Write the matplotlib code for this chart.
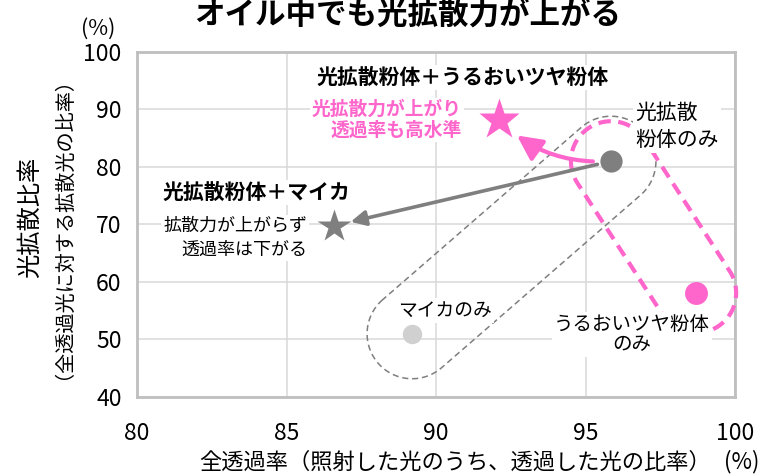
import numpy as np
import matplotlib.pyplot as plt
from matplotlib.patches import Polygon
from matplotlib.transforms import IdentityTransform

# 日本語フォント
plt.rcParams["font.family"] = ["Noto Sans CJK JP", "DejaVu Sans"]

# データ（全透過率, 光拡散比率）
names = ["光拡散粉体のみ", "うるおいツヤ粉体のみ", "マイカのみ",
         "光拡散粉体＋マイカ", "光拡散粉体＋うるおいツヤ粉体"]
trans = [95.85, 98.7, 89.2, 86.6, 92.1]
diffuse = [81.0, 58.1, 51.0, 69.8, 88.1]

x_ticks = [80, 85, 90, 95, 100]
y_ticks = [40, 50, 60, 70, 80, 90, 100]

PINK = "#FF66CC"
GRAY = "#7F7F7F"
LIGHT = "#D0D0D0"

markers = ["o", "o", "o", "*", "*"]
colors = [GRAY, PINK, LIGHT, GRAY, PINK]
sizes = [16, 16.5, 14, 25, 31]

fig = plt.figure(figsize=(7.62, 4.76), dpi=100)
ax = fig.add_axes([0.1798, 0.166, 0.7848, 0.7248])
ax.set_xlim(80, 100)
ax.set_ylim(40, 100)
ax.set_xticks(x_ticks)
ax.set_yticks(y_ticks)
ax.grid(color="#D9D9D9", lw=1.1)
ax.set_axisbelow(True)
for s in ax.spines.values():
    s.set_color("#BFBFBF")
    s.set_linewidth(2)
ax.tick_params(axis="y", length=0, labelsize=16.5, pad=11)
ax.tick_params(axis="x", length=0, labelsize=16.5, pad=18)


def stadium(i, j, r, n=60):
    # 2点を囲む角丸の枠（ピクセル座標）
    p1, p2 = ax.transData.transform([(trans[i], diffuse[i]), (trans[j], diffuse[j])])
    d = p2 - p1
    th = np.arctan2(d[1], d[0])
    a1 = np.linspace(th + np.pi / 2, th + 3 * np.pi / 2, n)
    a2 = np.linspace(th - np.pi / 2, th + np.pi / 2, n)
    c1 = p1 + r * np.c_[np.cos(a1), np.sin(a1)]
    c2 = p2 + r * np.c_[np.cos(a2), np.sin(a2)]
    return np.vstack([c1, c2])


ax.add_patch(Polygon(stadium(2, 0, 45), closed=True, fill=False, ec=GRAY,
                     lw=1.1, ls=(0, (4, 2.5)), transform=IdentityTransform(),
                     clip_on=False, zorder=2))
ax.add_patch(Polygon(stadium(0, 1, 40), closed=True, fill=False, ec=PINK,
                     lw=3, ls=(0, (3, 1.8)), transform=IdentityTransform(),
                     clip_on=False, zorder=3))

# 矢印
ax.annotate("", xy=(trans[3], diffuse[3]), xytext=(trans[0], diffuse[0]),
            arrowprops=dict(arrowstyle="-|>,head_length=0.9,head_width=0.45",
                            color=GRAY, lw=2.6, shrinkA=10, shrinkB=12,
                            mutation_scale=10), zorder=4)
ax.annotate("", xy=(trans[4], diffuse[4]), xytext=(trans[0], diffuse[0]),
            arrowprops=dict(arrowstyle="-|>,head_length=1.5,head_width=0.75",
                            color=PINK, lw=3, shrinkA=13, shrinkB=17,
                            mutation_scale=10,
                            connectionstyle="arc3,rad=-0.22"), zorder=4)

for xi, yi, m, c, s in zip(trans, diffuse, markers, colors, sizes):
    ax.plot(xi, yi, marker=m, color=c, ms=s, mec="none", zorder=5)

box = dict(boxstyle="square,pad=0.1", fc="white", ec="none")
ax.text(90.9, 95.5, "光拡散粉体＋うるおいツヤ粉体", fontsize=15, fontweight="bold",
        ha="center", va="center", bbox=box, zorder=6)
ax.text(90.87, 88.2, "光拡散力が上がり\n透過率も高水準", fontsize=13.5,
        fontweight="bold", color=PINK, ha="right", va="center",
        multialignment="right", linespacing=1.15, bbox=box, zorder=6)
ax.text(80.84, 75.5, "光拡散粉体＋マイカ", fontsize=15, fontweight="bold",
        ha="left", va="center", bbox=box, zorder=6)
ax.text(85.69, 67.7, "拡散力が上がらず\n透過率は下がる", fontsize=13,
        ha="right", va="center", multialignment="right", linespacing=1.45,
        bbox=box, zorder=6)
ax.text(96.66, 87.0, "光拡散\n粉体のみ", fontsize=15, ha="left", va="center",
        linespacing=1.3, bbox=box, zorder=6)
ax.text(90.3, 55.1, "マイカのみ", fontsize=13.5, ha="center", va="center",
        bbox=box, zorder=6)
ax.text(96.56, 50.8, "うるおいツヤ粉体\nのみ", fontsize=14, ha="center",
        va="center", linespacing=0.95, bbox=box, zorder=6)

# タイトル・軸ラベル
fig.text(0.535, 1.0, "オイル中でも光拡散力が上がる", fontsize=22,
         fontweight="bold", ha="center", va="top")
fig.text(98 / 762, 1 - 29 / 476, "(%)", fontsize=15.5, ha="center", va="center")
fig.text(30 / 762, 1 - 217 / 476, "光拡散比率", fontsize=17.5, rotation=90,
         ha="center", va="center")
fig.text(53 / 762, 1 - 218 / 476, "（全透過光に対する拡散光の比率）", fontsize=14.5,
         rotation=90, ha="center", va="center")
fig.text(455 / 762, 1 - 462 / 476, "全透過率（照射した光のうち、透過した光の比率）",
         fontsize=16, ha="center", va="center")
fig.text(742 / 762, 1 - 462 / 476, "(%)", fontsize=16, ha="center", va="center")

fig.savefig("out.png", dpi=100)
